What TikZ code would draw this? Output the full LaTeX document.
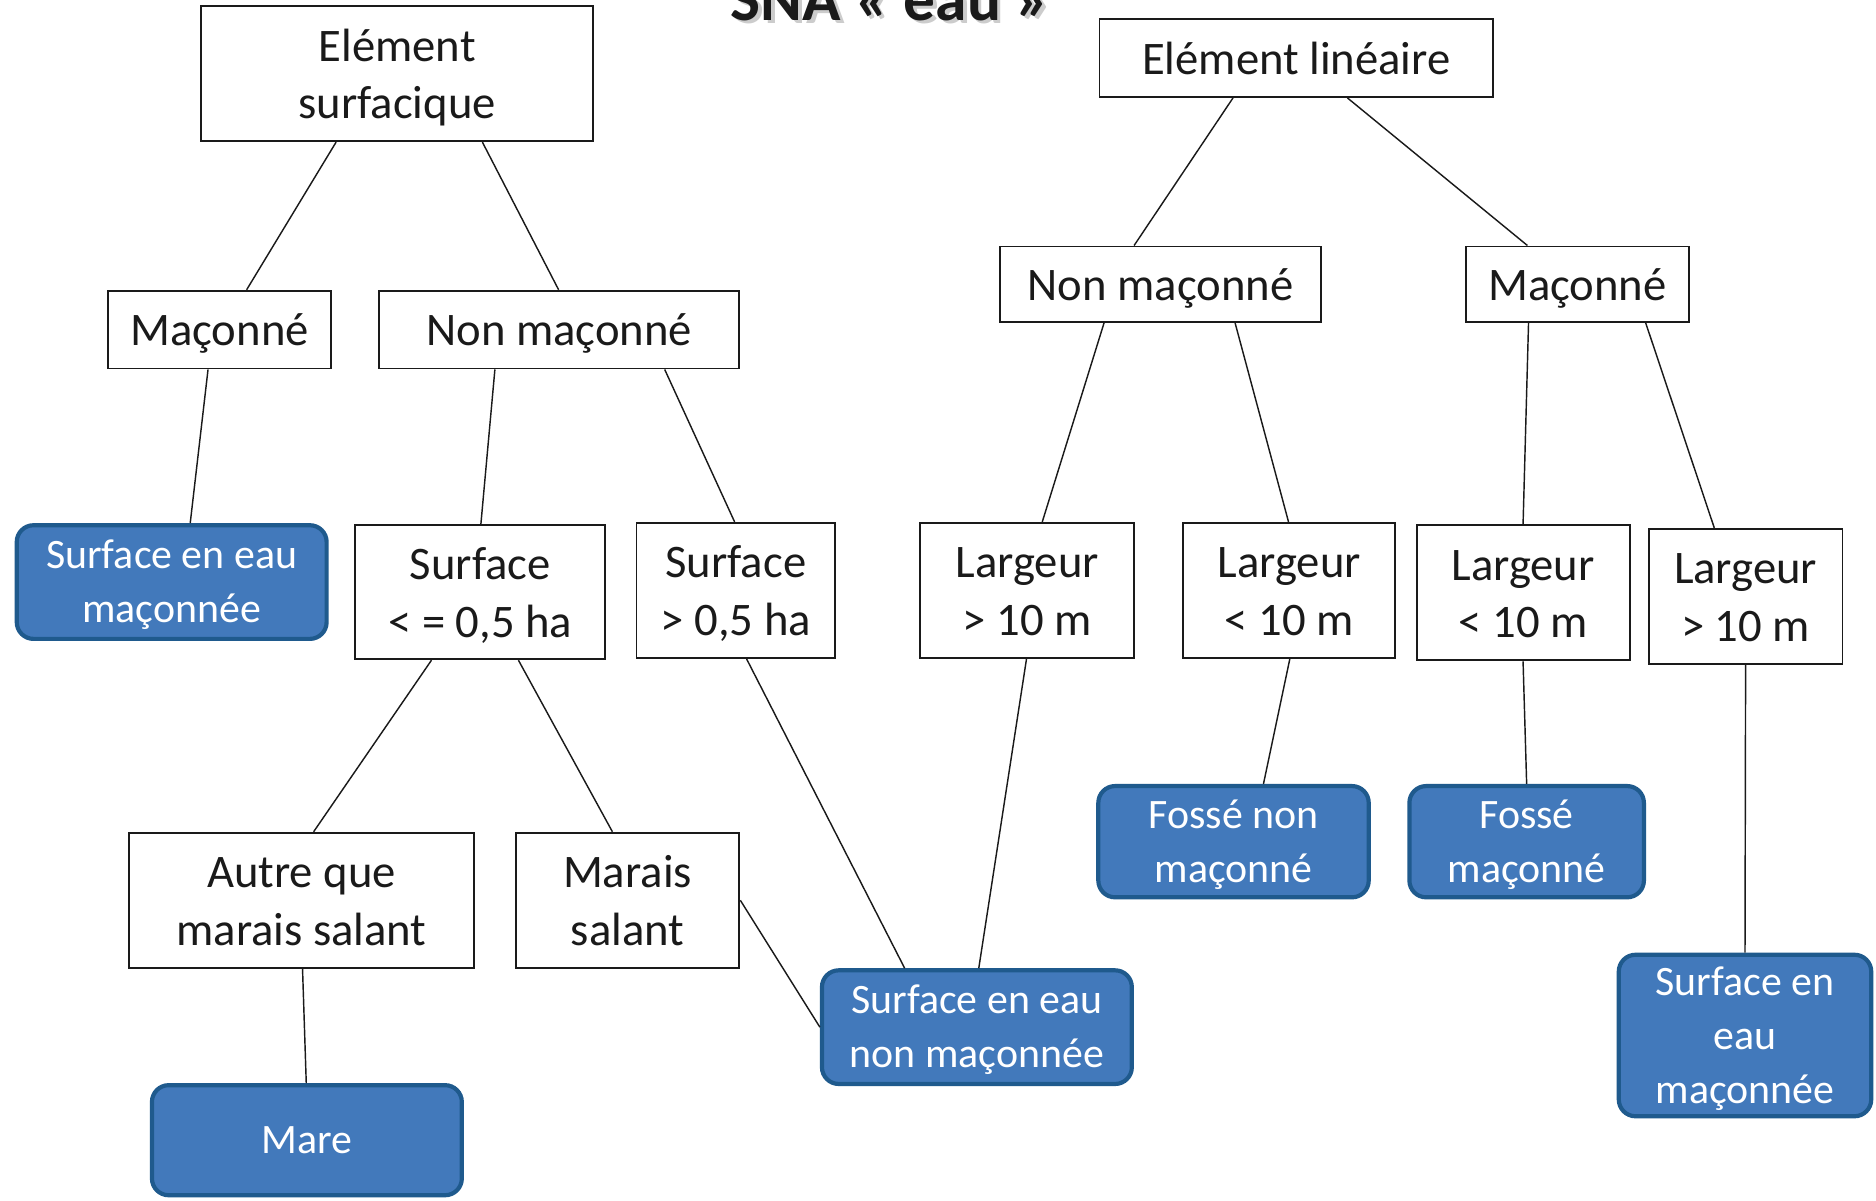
\documentclass[tikz,border=0pt]{standalone}
\usepackage{fontspec}
\setmainfont{Carlito}
\usetikzlibrary{calc}
\definecolor{bfill}{HTML}{4279BB}
\definecolor{bdraw}{HTML}{1F5A8D}
\definecolor{ink}{HTML}{1A1A1A}
\newcommand\linkbox[4]{\draw[conn] ($(#1.south west)!#2!(#1.south east)$) -- ($(#3.north west)!#4!(#3.north east)$);}
\newcommand\wtop{\rule{0pt}{39pt}}
\newcommand\wbot{\rule[-12pt]{0pt}{12pt}}
\newcommand\btop{\rule{0pt}{33pt}}
\newcommand\bbot{\rule[-10pt]{0pt}{10pt}}
\begin{document}
\begin{tikzpicture}[x=1pt,y=-1pt,
  wbox/.style={draw=ink, line width=1.6pt, fill=white, align=center, inner sep=0pt, font=\fontsize{39}{48}\selectfont, text=ink},
  bbox/.style={draw=bdraw, line width=3.5pt, fill=bfill, rounded corners=14pt, align=center, inner sep=0pt, font=\fontsize{35}{45}\selectfont, text=white},
  conn/.style={line width=1.2pt, draw=ink}]
\useasboundingbox (0,0) rectangle (1568,1003);
\clip (0,0) rectangle (1568,1003);
\fill[white] (0,0) rectangle (1568,1003);
% title (cut off at top)
\node[anchor=base, font=\bfseries\fontsize{53}{60}\selectfont, text=black!20] (titleshadow) at (747,20) {SNA « eau »};
\node[anchor=base, font=\bfseries\fontsize{53}{60}\selectfont, text=ink] (title) at (744,17) {SNA « eau »};
% white boxes
\node[wbox, minimum width=328pt, minimum height=113pt] (es) at (332,61.5) {\wtop Elément\\surfacique\wbot};
\node[wbox, minimum width=187pt, minimum height=65pt] (mL) at (183.5,275.5) {\wtop Maçonné\wbot};
\node[wbox, minimum width=301pt, minimum height=65pt] (nmL) at (467.5,275.5) {\wtop Non maçonné\wbot};
\node[wbox, minimum width=209pt, minimum height=112pt] (s1) at (401.5,495) {\wtop Surface\\< = 0,5 ha\wbot};
\node[wbox, minimum width=166pt, minimum height=113pt] (s2) at (615,493.5) {\wtop Surface\\> 0,5 ha\wbot};
\node[wbox, minimum width=179pt, minimum height=113pt] (l1) at (858.5,493.5) {\wtop Largeur\\> 10 m\wbot};
\node[wbox, minimum width=177pt, minimum height=113pt] (l2) at (1077.5,493.5) {\wtop Largeur\\< 10 m\wbot};
\node[wbox, minimum width=178pt, minimum height=113pt] (l3) at (1273,495.5) {\wtop Largeur\\< 10 m\wbot};
\node[wbox, minimum width=162pt, minimum height=113pt] (l4) at (1459,498.5) {\wtop Largeur\\> 10 m\wbot};
\node[wbox, minimum width=329pt, minimum height=65pt] (el) at (1083.5,48.5) {\wtop Elément linéaire\wbot};
\node[wbox, minimum width=268pt, minimum height=63pt] (nmR) at (970,237.5) {\wtop Non maçonné\wbot};
\node[wbox, minimum width=187pt, minimum height=63pt] (mR) at (1318.5,237.5) {\wtop Maçonné\wbot};
\node[wbox, minimum width=288pt, minimum height=113pt] (aut) at (252,752.5) {\wtop Autre que\\marais salant\wbot};
\node[wbox, minimum width=187pt, minimum height=113pt] (mar) at (524.5,752.5) {\wtop Marais\\salant\wbot};
% blue boxes
\node[bbox, minimum width=259pt, minimum height=95pt] (semL) at (143.5,486.5) {\btop Surface en eau\\maçonnée\bbot};
\node[bbox, minimum width=259pt, minimum height=95pt] (senm) at (816.5,858.5) {\btop Surface en eau\\non maçonnée\bbot};
\node[bbox, minimum width=226pt, minimum height=93pt] (fnm) at (1031,703.5) {\btop Fossé non\\maçonné\bbot};
\node[bbox, minimum width=196pt, minimum height=93pt] (fm) at (1276,703.5) {\btop Fossé\\maçonné\bbot};
\node[bbox, minimum width=211pt, minimum height=135pt] (semR) at (1458.5,865.5) {\btop Surface en\\eau\\maçonnée\bbot};
\node[bbox, minimum width=259pt, minimum height=92pt] (mare) at (256.5,953) {\btop Mare\bbot};
% connectors
\linkbox{es}{0.345}{mL}{0.62}
\linkbox{es}{0.716}{nmL}{0.498}
\linkbox{mL}{0.449}{semL}{0.559}
\linkbox{nmL}{0.322}{s1}{0.502}
\linkbox{nmL}{0.791}{s2}{0.494}
\linkbox{s1}{0.306}{aut}{0.535}
\linkbox{s1}{0.651}{mar}{0.433}
\linkbox{s2}{0.554}{senm}{0.27}
\draw[conn] (mar.east) -- (senm.west);
\linkbox{aut}{0.503}{mare}{0.498}
\linkbox{el}{0.34}{nmR}{0.418}
\linkbox{el}{0.629}{mR}{0.278}
\linkbox{nmR}{0.325}{l1}{0.57}
\linkbox{nmR}{0.731}{l2}{0.497}
\linkbox{mR}{0.283}{l3}{0.5}
\linkbox{mR}{0.802}{l4}{0.34}
\linkbox{l1}{0.497}{senm}{0.506}
\linkbox{l2}{0.503}{fnm}{0.609}
\linkbox{l3}{0.5}{fm}{0.5}
\linkbox{l4}{0.5}{semR}{0.5}
\end{tikzpicture}
\end{document}
